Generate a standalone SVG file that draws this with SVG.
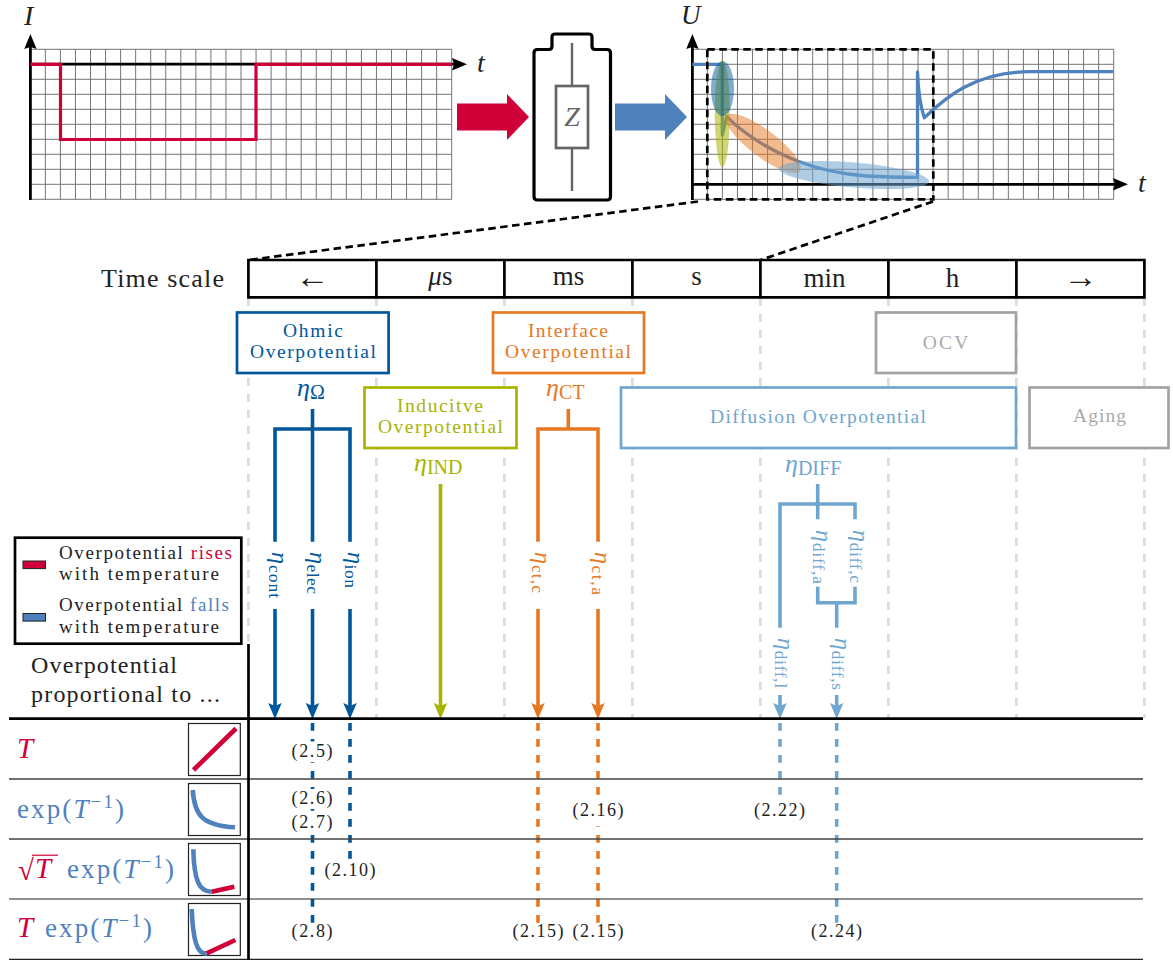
<svg xmlns="http://www.w3.org/2000/svg" xmlns:xlink="http://www.w3.org/1999/xlink" width="1173" height="960" viewBox="0 0 1173 960">
<style>
text{font-family:"Liberation Serif","Times New Roman",serif;fill:#222}
.i{font-style:italic}
.nav{fill:#00579b}.org{fill:#e87722}.olv{fill:#a8b400}.sky{fill:#6ea6d0}.gry{fill:#aaaaaa}.red{fill:#cf0038}.stl{fill:#4f81bd}
.box{fill:#fff;stroke-width:2.7}
.bt{font-size:19.5px;text-anchor:start}
.cell{font-size:27px;text-anchor:middle}
.eq{font-size:18px}
.grid{fill:none;stroke:#757575;stroke-width:1}
.ln{fill:none;stroke-width:3.6}
.dsh{fill:none;stroke-width:3.6;stroke-dasharray:7.8 8.2}
.gd{fill:none;stroke:#dcdcdc;stroke-width:2.7;stroke-dasharray:8 8}
.row{stroke:#444;stroke-width:1.3}
.ik{fill:none;stroke-width:4.6}
.e{font-size:26px;font-style:italic}
.s{font-size:20px;font-style:normal}
.v{font-size:24px;font-style:italic}
.vs{font-size:17.5px;font-style:normal}
</style>
<defs>
<path id="gl" d="M0 0V150M15.05 0V150M30.1 0V150M45.15 0V150M60.2 0V150M75.25 0V150M90.3 0V150M105.35 0V150M120.4 0V150M135.45 0V150M150.5 0V150M165.55 0V150M180.6 0V150M195.65 0V150M210.7 0V150M225.75 0V150M240.8 0V150M255.85 0V150M270.9 0V150M285.95 0V150M301 0V150M316.05 0V150M331.1 0V150M346.15 0V150M361.2 0V150M376.25 0V150M391.3 0V150M406.35 0V150M421.4 0V150M0 0H421.4M0 15H421.4M0 30H421.4M0 45H421.4M0 60H421.4M0 75H421.4M0 90H421.4M0 105H421.4M0 120H421.4M0 135H421.4M0 150H421.4"/>
<marker id="mk" markerUnits="userSpaceOnUse" markerWidth="16" markerHeight="14" viewBox="0 -7 16 14" refX="2" refY="0" orient="auto"><path d="M15 0L0 6.2L2 0L0 -6.2Z" fill="#000"/></marker>
<marker id="mn" markerUnits="userSpaceOnUse" markerWidth="16" markerHeight="14" viewBox="0 -7 16 14" refX="3" refY="0" orient="auto"><path d="M16 0L0 6.7L3 0L0 -6.7Z" fill="#00579b"/></marker>
<marker id="mo" markerUnits="userSpaceOnUse" markerWidth="16" markerHeight="14" viewBox="0 -7 16 14" refX="3" refY="0" orient="auto"><path d="M16 0L0 6.7L3 0L0 -6.7Z" fill="#e87722"/></marker>
<marker id="ml" markerUnits="userSpaceOnUse" markerWidth="16" markerHeight="14" viewBox="0 -7 16 14" refX="3" refY="0" orient="auto"><path d="M16 0L0 6.7L3 0L0 -6.7Z" fill="#a8b400"/></marker>
<marker id="ms" markerUnits="userSpaceOnUse" markerWidth="16" markerHeight="14" viewBox="0 -7 16 14" refX="3" refY="0" orient="auto"><path d="M16 0L0 6.7L3 0L0 -6.7Z" fill="#6ea6d0"/></marker>
</defs>

<g id="chart-current">
<use xlink:href="#gl" href="#gl" class="grid" transform="translate(30.3 49.3)"/>
<path d="M30.4 200V47" fill="none" stroke="#000" stroke-width="2.8" marker-end="url(#mk)"/>
<path d="M30 64.2H454" fill="none" stroke="#000" stroke-width="2.8" marker-end="url(#mk)"/>
<path d="M30.3 64.3H60.5V139.5H256V64.3H452" fill="none" stroke="#cf0038" stroke-width="3.2"/>
<text class="i" x="24" y="25" font-size="28">I</text>
<text class="i" x="477" y="72" font-size="28">t</text>
</g>

<g id="arrow-in"><path d="M457 103.5H507V94L529 117L507 140V130.5H457Z" fill="#cf0038"/></g>

<g id="battery">
<path d="M536.5 49.5H549Q552 49.5 552 46V37Q552 34 555 34H589Q592 34 592 37V46Q592 49.5 595 49.5H607Q610.5 49.5 610.5 53V196.5Q610.5 200 607 200H537.5Q534 200 534 196.5V53Q534 49.5 537.5 49.5Z" fill="#fff" stroke="#000" stroke-width="3.2" stroke-linejoin="round"/>
<path d="M572 43V86M572 148V191" fill="none" stroke="#666" stroke-width="2.4"/>
<rect x="556" y="86" width="32" height="62" fill="#fff" stroke="#666" stroke-width="2.7"/>
<text class="i" x="572" y="126" font-size="28" text-anchor="middle" style="fill:#666">Z</text>
</g>

<g id="arrow-out"><path d="M615 103.5H665V94L687 117L665 140V130.5H615Z" fill="#4f81bd"/></g>

<g id="chart-voltage">
<use xlink:href="#gl" href="#gl" class="grid" transform="translate(692.3 49.3)"/>
<path d="M692.4 200V47" fill="none" stroke="#000" stroke-width="2.8" marker-end="url(#mk)"/>
<path d="M692 184.3H1115" fill="none" stroke="#000" stroke-width="2.8" marker-end="url(#mk)"/>
<path d="M692.3 64.3H722.3V135L726.7 116.7C745 135 770 150 796.7 160.7C815 168 840 174 866.7 176C885 177 900 177.3 917.5 177.3V72C918 85 920 105 924.3 117.7C945 98 975 71.7 1030 71.7H1113" fill="none" stroke="#4f81bd" stroke-width="3.3" stroke-linejoin="round"/>
<ellipse cx="722.3" cy="113.5" rx="7.5" ry="53.5" fill="#a8b400" opacity=".55"/>
<ellipse cx="722.5" cy="88.7" rx="11.5" ry="27.5" fill="#00579b" opacity=".5"/>
<ellipse cx="763.3" cy="143.5" rx="46" ry="13.5" fill="#e87722" opacity=".5" transform="rotate(37 763.3 143.5)"/>
<ellipse cx="854" cy="175" rx="75.5" ry="12.5" fill="#6ea6d0" opacity=".55" transform="rotate(5 854 175)"/>
<text class="i" x="681" y="24" font-size="27">U</text>
<text class="i" x="1138" y="192" font-size="28">t</text>
</g>

<g id="zoom-frame" fill="none" stroke="#000" stroke-width="2.7" stroke-dasharray="7.5 4.5">
<rect x="707.3" y="49.3" width="226" height="150"/>
<path d="M698 201.5L248.5 260M933 201.5L760.5 260"/>
</g>

<g id="time-grid">
<path class="gd" d="M248.4 298V718M376.4 298V718M504.4 298V718M632.4 298V718M760.4 298V718M888.4 298V718M1016.4 298V718M1144.4 298V718"/>
</g>

<g id="time-scale">
<text x="101" y="287" font-size="26" textLength="123">Time scale</text>
<path d="M248.4 260H1144.4V297.3H248.4ZM376.4 260V297.3M504.4 260V297.3M632.4 260V297.3M760.4 260V297.3M888.4 260V297.3M1016.4 260V297.3" fill="#fff" stroke="#000" stroke-width="2.7"/>
<text class="cell" x="312.4" y="288" style="font-size:34px">←</text>
<text class="cell" x="440.4" y="285"><tspan class="i">μ</tspan>s</text>
<text class="cell" x="568.4" y="285">ms</text>
<text class="cell" x="696.4" y="285">s</text>
<text class="cell" x="824.4" y="287">min</text>
<text class="cell" x="952.4" y="287">h</text>
<text class="cell" x="1080.4" y="288" style="font-size:34px">→</text>
</g>

<g id="ohmic">
<rect class="box" x="237" y="312.5" width="151.6" height="60.5" stroke="#00579b"/>
<text class="bt nav" x="283" y="337" textLength="60">Ohmic</text>
<text class="bt nav" x="250" y="358" textLength="126">Overpotential</text>
<text class="e nav" x="297" y="396">η<tspan class="s" dy="3">Ω</tspan></text>
</g>
<g id="inductive">
<rect class="box" x="364.5" y="387.5" width="152" height="60.5" stroke="#a8b400"/>
<text class="bt olv" x="397" y="412" textLength="86">Inducitve</text>
<text class="bt olv" x="378" y="433" textLength="125">Overpotential</text>
<text class="e olv" x="414" y="471">η<tspan class="s" dy="3">IND</tspan></text>
</g>
<g id="interface">
<rect class="box" x="493" y="312.5" width="151" height="60.5" stroke="#e87722"/>
<text class="bt org" x="528" y="337" textLength="80">Interface</text>
<text class="bt org" x="505" y="358" textLength="126">Overpotential</text>
<text class="e org" x="546" y="396">η<tspan class="s" dy="3">CT</tspan></text>
</g>
<g id="diffusion">
<rect class="box" x="621" y="387.5" width="395" height="60.5" stroke="#6ea6d0"/>
<text class="bt sky" x="710" y="423" textLength="216">Diffusion Overpotential</text>
<text class="e sky" x="785" y="472">η<tspan class="s" dy="3">DIFF</tspan></text>
</g>
<g id="ocv">
<rect class="box" x="876" y="312.5" width="140" height="60.5" stroke="#a3a3a3"/>
<text class="bt gry" x="922.7" y="349" textLength="45.6">OCV</text>
</g>
<g id="aging">
<rect class="box" x="1029.5" y="387.5" width="139" height="60.5" stroke="#a3a3a3"/>
<text class="bt gry" x="1073" y="422" textLength="53">Aging</text>
</g>

<g id="connectors">
<g stroke="#00579b">
<path class="ln" d="M312.5 409V541.7M275 541.7V429H350V541.7"/>
<path class="ln" d="M275 609V706" marker-end="url(#mn)"/>
<path class="ln" d="M312.5 609V706" marker-end="url(#mn)"/>
<path class="ln" d="M350 609V706" marker-end="url(#mn)"/>
<path class="dsh" d="M312.5 723V923M350 723V859"/>
</g>
<path class="ln" stroke="#a8b400" d="M440.5 484V706" marker-end="url(#ml)"/>
<g stroke="#e87722">
<path class="ln" d="M568.3 409V429M538 541.7V429H598V541.7"/>
<path class="ln" d="M538 609V706" marker-end="url(#mo)"/>
<path class="ln" d="M598 609V706" marker-end="url(#mo)"/>
<path class="dsh" d="M538 723V923M598 723V923"/>
</g>
<g stroke="#6ea6d0">
<path class="ln" d="M817.7 484V519.3M780 627.7V504H855V519.3M817.7 586.7V602.7H855V586.7M836.7 602.7V627.7"/>
<path class="ln" d="M780 695V706" marker-end="url(#ms)"/>
<path class="ln" d="M836.7 695V706" marker-end="url(#ms)"/>
<path class="dsh" d="M780 723V795M836.7 723V923"/>
</g>
</g>

<g id="branch-labels">
<text class="v nav" transform="translate(272 552) rotate(90)" textLength="46">η<tspan class="vs" dy="3">cont</tspan></text>
<text class="v nav" transform="translate(310 552) rotate(90)" textLength="42">η<tspan class="vs" dy="3">elec</tspan></text>
<text class="v nav" transform="translate(348 552) rotate(90)" textLength="36">η<tspan class="vs" dy="3">ion</tspan></text>
<text class="v org" transform="translate(535 552) rotate(90)" textLength="41">η<tspan class="vs" dy="3">ct,c</tspan></text>
<text class="v org" transform="translate(595 552) rotate(90)" textLength="43">η<tspan class="vs" dy="3">ct,a</tspan></text>
<text class="v sky" transform="translate(815.5 530) rotate(90)" textLength="54">η<tspan class="vs" dy="3">diff,a</tspan></text>
<text class="v sky" transform="translate(853 530) rotate(90)" textLength="53">η<tspan class="vs" dy="3">diff,c</tspan></text>
<text class="v sky" transform="translate(778 638) rotate(90)" textLength="50">η<tspan class="vs" dy="3">diff,l</tspan></text>
<text class="v sky" transform="translate(835 638) rotate(90)" textLength="52">η<tspan class="vs" dy="3">diff,s</tspan></text>
</g>

<g id="legend">
<rect x="15" y="537.7" width="226.3" height="106" fill="#fff" stroke="#000" stroke-width="2.7"/>
<rect x="23" y="561" width="22.5" height="7.6" fill="#cf0038" stroke="#222" stroke-width="1"/>
<rect x="23" y="613.5" width="22.5" height="7.6" fill="#4f81bd" stroke="#222" stroke-width="1"/>
<text x="59" y="559" font-size="19" textLength="173">Overpotential <tspan class="red">rises</tspan></text>
<text x="59" y="580" font-size="19" textLength="160">with temperature</text>
<text x="59" y="610.5" font-size="19" textLength="170">Overpotential <tspan class="stl">falls</tspan></text>
<text x="59" y="633" font-size="19" textLength="160">with temperature</text>
</g>

<g id="table-head">
<text x="31" y="673" font-size="24" textLength="146">Overpotential</text>
<text x="31" y="702" font-size="24" textLength="189">proportional to ...</text>
</g>

<g id="table-lines">
<path d="M9 718.6H1143" stroke="#000" stroke-width="2.8"/>
<path class="row" d="M9 779H1143M9 839H1143"/>
<path d="M9 899H1143M9 959.3H1143" stroke="#222" stroke-width="1.2"/>
<path d="M248.5 644V960" stroke="#000" stroke-width="2.7"/>
</g>

<g id="row-t">
<text class="i red" x="17" y="758" font-size="29">T</text>
<rect x="188.5" y="723.5" width="51.8" height="52" fill="#fff" stroke="#222" stroke-width="1.2"/>
<path class="ik" stroke="#cf0038" d="M193.5 770L236 728.5"/>
</g>
<g id="row-exp">
<text class="stl" x="17" y="818" font-size="27" textLength="107">exp(<tspan class="i">T</tspan><tspan font-size="19" dy="-10">−1</tspan><tspan dy="10">)</tspan></text>
<rect x="188.5" y="783.5" width="51.8" height="52" fill="#fff" stroke="#222" stroke-width="1.2"/>
<path class="ik" stroke="#4f81bd" d="M192.7 790C194.5 815 202 825.5 235 827.3"/>
</g>
<g id="row-sqrt">
<text class="red" x="18" y="880" font-size="29">√</text>
<path d="M32 855.2H58" stroke="#cf0038" stroke-width="1.2"/>
<text class="i red" x="35" y="878" font-size="29">T</text>
<text class="stl" x="67" y="878" font-size="27" textLength="107">exp(<tspan class="i">T</tspan><tspan font-size="19" dy="-10">−1</tspan><tspan dy="10">)</tspan></text>
<rect x="188.5" y="843.5" width="51.8" height="52" fill="#fff" stroke="#222" stroke-width="1.2"/>
<path class="ik" stroke="#4f81bd" d="M193.3 849.3C194 880 199 892 211.7 891.7"/>
<path class="ik" stroke="#cf0038" d="M211.7 891.7L234.3 886.7"/>
</g>
<g id="row-texp">
<text class="i red" x="17" y="937" font-size="29">T</text>
<text class="stl" x="45" y="937" font-size="27" textLength="107">exp(<tspan class="i">T</tspan><tspan font-size="19" dy="-10">−1</tspan><tspan dy="10">)</tspan></text>
<rect x="188.5" y="903.5" width="51.8" height="52" fill="#fff" stroke="#222" stroke-width="1.2"/>
<path class="ik" stroke="#4f81bd" d="M191.7 909C193 940 197 955 206.7 953.3"/>
<path class="ik" stroke="#cf0038" d="M206.7 953.3L235.3 940"/>
</g>

<g id="equations">
<rect x="290" y="741.5" width="45" height="20.5" fill="#fff"/>
<rect x="290" y="789" width="45" height="20" fill="#fff"/>
<rect x="290" y="811.5" width="45" height="23" fill="#fff"/>
<rect x="572" y="802" width="52" height="24" fill="#fff"/>
<text class="eq" x="291.5" y="757" textLength="41">(2.5)</text>
<text class="eq" x="291.5" y="804" textLength="41">(2.6)</text>
<text class="eq" x="291.5" y="828" textLength="41">(2.7)</text>
<text class="eq" x="291.5" y="937" textLength="41">(2.8)</text>
<text class="eq" x="324.5" y="876" textLength="51">(2.10)</text>
<text class="eq" x="572.5" y="816" textLength="51">(2.16)</text>
<text class="eq" x="754" y="816" textLength="51">(2.22)</text>
<text class="eq" x="512.5" y="937" textLength="51">(2.15)</text>
<text class="eq" x="572.5" y="937" textLength="51">(2.15)</text>
<text class="eq" x="811" y="937" textLength="51">(2.24)</text>
</g>
</svg>
